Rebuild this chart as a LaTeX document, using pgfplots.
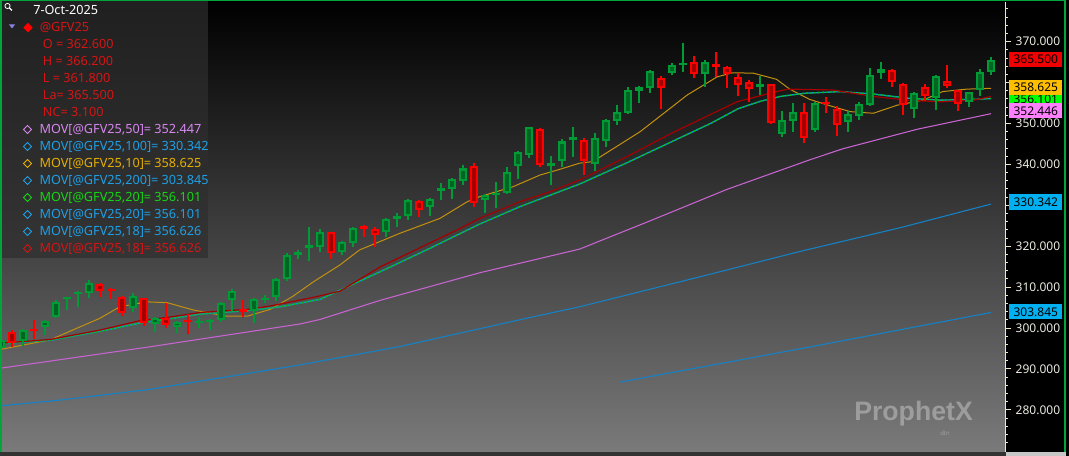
\documentclass[border=0pt]{standalone}
\usepackage{pgfplots}
\usepackage{pgfplotstable}
\pgfplotsset{compat=1.18}
\usepackage{fontspec}
\setmainfont{Noto Sans}
\newfontfamily\wmfont{Liberation Sans}

\definecolor{gout}{RGB}{0,155,55}
\definecolor{gin}{RGB}{0,100,35}
\definecolor{rout}{RGB}{255,0,0}
\definecolor{rin}{RGB}{165,0,0}
\definecolor{ma10c}{RGB}{195,145,15}
\definecolor{ma18c}{RGB}{165,0,0}
\definecolor{ma20g}{RGB}{0,190,0}
\definecolor{ma20b}{RGB}{20,150,210}
\definecolor{ma50c}{RGB}{200,100,210}
\definecolor{ma100c}{RGB}{20,130,200}
\definecolor{axcol}{RGB}{240,230,195}
\definecolor{tickl}{RGB}{235,235,225}
\definecolor{framec}{RGB}{0,165,60}
\definecolor{legred}{RGB}{215,20,20}
\definecolor{legpink}{RGB}{215,135,240}
\definecolor{legblue}{RGB}{30,160,230}
\definecolor{leggold}{RGB}{230,175,0}
\definecolor{leggreen}{RGB}{20,215,20}
\definecolor{tric}{RGB}{140,130,230}
\definecolor{boxred}{RGB}{240,0,0}
\definecolor{boxgold}{RGB}{255,190,0}
\definecolor{boxgreen}{RGB}{0,255,0}
\definecolor{boxpink}{RGB}{255,128,255}
\definecolor{boxblue}{RGB}{0,176,240}

\newcommand\fsz{\fontsize{9}{10}\selectfont}
\newcommand\lsz{\fontsize{9.5}{10}\selectfont}

\pgfplotstableread{
i o h l c
0 295.2 297.3 294.8 297.0
2 296.9 299.7 295.6 299.5
4 300.3 302.0 298.3 301.7
5 302.6 306.8 302.4 306.4
6 307.0 307.6 304.4 307.5
7 308.4 309.0 305.2 308.9
8 308.6 311.7 307.3 310.9
12 304.8 308.5 304.0 307.8
14 301.0 302.6 299.1 302.4
16 300.3 301.7 298.9 301.5
18 301.3 302.8 299.9 301.8
19 301.4 302.1 299.5 302.0
20 302.0 306.4 301.5 306.2
21 306.8 309.5 304.2 309.0
23 304.2 307.4 301.3 307.0
24 306.8 308.1 306.0 307.4
25 307.7 312.2 306.7 311.9
26 311.9 318.3 311.6 317.8
27 317.9 319.1 316.8 318.7
28 319.5 324.8 316.5 320.3
29 319.7 324.1 318.7 323.5
31 318.5 321.3 317.8 321.0
32 320.9 324.8 319.9 324.5
35 323.4 327.0 322.2 326.6
36 326.6 328.0 324.8 327.5
37 327.5 331.5 326.4 331.3
39 329.7 331.9 327.4 331.5
40 333.6 335.5 331.3 334.2
41 333.9 336.6 331.5 336.4
42 336.0 339.9 335.0 339.0
44 331.3 332.8 328.2 332.5
45 332.5 335.8 329.3 333.1
46 333.1 339.3 332.8 338.2
47 339.6 343.3 336.4 343.0
48 342.3 349.2 341.5 349.1
50 339.6 342.1 335.0 340.4
51 340.9 346.1 339.3 345.6
52 346.0 349.2 341.9 346.8
54 340.0 347.6 338.5 346.4
55 345.7 351.1 344.3 350.9
56 350.7 354.5 349.6 352.7
57 352.6 358.9 352.3 358.2
58 358.0 359.2 355.1 358.8
59 358.6 363.1 357.4 362.9
61 362.3 364.7 361.9 364.3
62 364.3 369.6 362.7 364.9
64 362.0 365.5 358.9 365.0
69 359.0 361.6 357.0 359.7
71 347.4 353.1 346.8 350.9
72 350.6 355.1 347.8 352.7
74 348.4 355.3 348.0 355.1
77 350.4 353.1 347.8 352.3
78 351.9 355.3 350.9 354.7
79 354.5 363.5 354.3 361.9
80 362.4 365.0 360.9 363.3
83 353.5 357.8 351.3 357.4
85 356.3 361.9 353.3 361.6
88 355.3 357.8 354.1 357.6
89 358.2 363.3 356.8 362.7
90 362.6 366.2 361.8 365.5
}\greens

\pgfplotstableread{
i o h l c
1 299.1 299.5 295.4 296.3
3 299.8 302.0 297.2 299.3
9 310.8 311.0 307.5 309.1
10 309.6 309.9 307.0 309.0
11 307.7 307.8 302.9 303.7
13 307.3 307.4 300.5 301.3
15 302.5 306.2 300.1 300.7
17 302.0 303.4 298.5 301.4
22 304.6 306.8 302.6 303.8
30 323.4 323.5 316.8 318.4
33 324.9 325.2 322.3 324.2
34 324.2 324.6 319.7 322.7
38 331.1 331.2 327.1 328.8
43 339.6 340.3 329.5 330.6
49 348.6 349.0 339.4 339.9
53 346.0 346.4 337.4 340.9
60 361.2 361.6 353.5 358.6
63 365.0 366.5 361.0 362.0
65 364.5 367.4 361.4 363.9
66 363.7 364.1 358.6 362.0
67 361.4 362.3 356.7 359.4
68 360.1 360.6 355.3 358.4
70 359.6 359.7 349.9 350.2
73 352.7 355.1 345.2 346.4
75 355.3 356.4 352.6 354.7
76 353.5 354.3 346.9 349.6
81 363.1 363.2 358.8 360.1
82 359.7 359.8 352.1 354.5
84 358.9 359.7 355.6 356.6
86 360.4 364.3 358.6 359.2
87 358.2 358.3 353.1 354.7
}\reds

\pgfplotsset{
  cbar/.style 2 args={only marks, mark=*, mark size=0pt,
    mark options={draw=none, fill=none}, forget plot,
    error bars/.cd, y dir=plus, y explicit, error mark=none,
    error bar style={draw=#1, line width=#2}},
}

\begin{document}
\begin{tikzpicture}
\path[use as bounding box] (0,0) rectangle (801.75pt,342pt);
\fill[black] (0,0) rectangle (801.75pt,342pt);

\begin{axis}[
  at={(1.5pt,3pt)}, anchor=south west,
  scale only axis, width=752.25pt, height=337.5pt,
  xmin=0.09, xmax=91.27, ymin=269.7, ymax=379.7,
  axis x line=none, axis y line=right,
  y axis line style={-, draw=axcol, line width=0.75pt},
  xtick=\empty,
  ytick={280,290,...,370},
  yticklabels={280.000,290.000,300.000,310.000,320.000,,340.000,350.000,,370.000},
  minor ytick={272,274,...,378},
  tick align=outside,
  major tick length=4.5pt, minor tick length=2.25pt,
  tick style={draw=axcol, line width=0.75pt},
  yticklabel style={font=\fsz, text=tickl},
  axis background/.style={top color=black, bottom color={rgb,255:red,122;green,122;blue,122}},
]
% MA200
\addplot[ma100c, line width=0.8pt] coordinates {(56.3,286.8) (72.6,294.9) (90,303.8)};
% MA100
\addplot[ma100c, line width=0.8pt] coordinates {(0,281.0) (5.4,282.4) (13.5,285.0) (27.2,291.0) (36.3,295.5) (47.8,302.4) (52.6,305.2) (63.5,312.5) (72.6,318.7) (81.7,324.5) (90,330.3)};
% MA50
\addplot[ma50c, line width=0.8pt] coordinates {(0,290.2) (13.5,295.4) (27.2,301.0) (29.0,302.1) (34.5,306.8) (43.5,313.5) (52.6,319.3) (59.0,326.2) (66.0,333.9) (73.5,341.1) (76.5,343.8) (83.3,348.6) (90,352.4)};
% MA10
\addplot[ma10c, line width=0.75pt] coordinates {(0,294.8) (4.45,297.1) (9.0,302.4) (10.8,305.2) (13.3,306.4) (15.1,306.2) (17.5,304.4) (20.5,302.9) (22.4,302.9) (24.5,304.6) (26.5,307.7) (28.4,311.3) (30.8,315.4) (32.6,319.1) (36.3,323.2) (39.9,326.8) (42.4,330.9) (43.5,332.1) (46.5,334.5) (49.0,337.4) (50.8,338.8) (52.6,340.3) (53.8,340.7) (58.1,348.0) (62.4,357.0) (65.1,361.4) (66.5,362.4) (68.4,362.3) (70.5,360.8) (71.7,358.4) (73.5,355.9) (75.4,354.3) (77.2,352.9) (79.3,352.5) (81.5,354.5) (83.8,355.7) (85.6,357.8) (87.8,358.4) (90,358.6)};
% MA20 (blue and green)
\addplot[ma20b, line width=1pt] coordinates {(0,296.2) (4.45,297.0) (9.0,299.2) (12.6,301.2) (15.1,302.2) (18.1,303.4) (22.6,304.3) (25.4,305.2) (29.0,307.0) (34.5,313.8) (39.0,319.5) (43.5,325.4) (47.2,329.7) (52.6,335.2) (56.9,340.4) (61.8,346.6) (64.5,350.0) (67.0,353.6) (69.0,355.4) (70.8,356.6) (73.1,357.4) (76.3,357.8) (79.3,357.2) (82.4,356.2) (85.4,355.7) (88.4,355.9) (90,356.1)};
\addplot[ma20g, line width=1pt, dash pattern=on 1.5pt off 1.5pt] coordinates {(0,296.2) (4.45,297.0) (9.0,299.2) (12.6,301.2) (15.1,302.2) (18.1,303.4) (22.6,304.3) (25.4,305.2) (29.0,307.0) (34.5,313.8) (39.0,319.5) (43.5,325.4) (47.2,329.7) (52.6,335.2) (56.9,340.4) (61.8,346.6) (64.5,350.0) (67.0,353.6) (69.0,355.4) (70.8,356.6) (73.1,357.4) (76.3,357.8) (79.3,357.2) (82.4,356.2) (85.4,355.7) (88.4,355.9) (90,356.1)};
% MA18
\addplot[ma18c, line width=0.9pt] coordinates {(0,296.3) (4.45,297.2) (9.0,299.5) (12.6,301.8) (15.1,302.6) (18.1,303.8) (22.6,304.6) (24.5,305.4) (28.4,307.5) (30.8,309.0) (34.5,315.0) (39.0,320.8) (41.7,324.3) (43.5,326.8) (47.2,330.9) (49.9,333.3) (52.6,336.2) (56.9,341.9) (60.8,347.4) (63.8,351.3) (66.9,355.3) (69.9,357.4) (71.5,358.4) (75.6,358.2) (77.2,357.5) (79.3,356.6) (82.4,355.7) (85.4,355.3) (88.4,355.7) (90,356.6)};

% candles
\addplot[cbar={gout}{1.5pt}] table[x=i, y=l, y error plus expr=\thisrow{h}-\thisrow{l}] {\greens};
\addplot[cbar={gout}{6.6pt}] table[x=i, y=o, y error plus expr=\thisrow{c}-\thisrow{o}] {\greens};
\addplot[cbar={gin}{3.4pt}] table[x=i, y expr=\thisrow{o}+0.49, y error plus expr={max(\thisrow{c}-\thisrow{o}-0.98,0)}] {\greens};
\addplot[cbar={rout}{1.5pt}] table[x=i, y=l, y error plus expr=\thisrow{h}-\thisrow{l}] {\reds};
\addplot[cbar={rout}{6.6pt}] table[x=i, y=c, y error plus expr=\thisrow{o}-\thisrow{c}] {\reds};
\addplot[cbar={rin}{3.4pt}] table[x=i, y expr=\thisrow{c}+0.49, y error plus expr={max(\thisrow{o}-\thisrow{c}-0.98,0)}] {\reds};

\coordinate (qr) at (axis cs:91.27,365.5);
\coordinate (qgold) at (axis cs:91.27,358.625);
\coordinate (qgreen) at (axis cs:91.27,356.101);
\coordinate (qpink) at (axis cs:91.27,352.446);
\coordinate (qb1) at (axis cs:91.27,330.342);
\coordinate (qb2) at (axis cs:91.27,303.845);
\end{axis}

% value boxes
\tikzset{vbox/.style={anchor=west, minimum width=39.75pt, minimum height=11.4pt, inner sep=0pt, font=\fsz, text=black}}
\node[vbox, fill=boxgreen] at ([xshift=3pt,yshift=-0.4pt]qgreen) {356.101};
\node[vbox, fill=boxgold] at ([xshift=3pt,yshift=0.8pt]qgold) {358.625};
\node[vbox, fill=boxpink] at ([xshift=3pt,yshift=2pt]qpink) {352.446};
\node[vbox, fill=boxred] at ([xshift=3pt,yshift=0.7pt]qr) {365.500};
\node[vbox, fill=boxblue] at ([xshift=3pt,yshift=1.4pt]qb1) {330.342};
\node[vbox, fill=boxblue] at ([xshift=3pt,yshift=0.4pt]qb2) {303.845};

\begin{scope}[x=0.75pt, y=-0.75pt, shift={(0pt,342pt)}]
  % frame
  \fill[framec] (0,0) rectangle (2,456);
  \fill[framec] (0,0) rectangle (1066,1.3);
  \fill[framec] (1064,0) rectangle (1066,452);
  \fill[black!80] (0,452) rectangle (1006,456);
  \fill[black!22] (1006,452) rectangle (1066,456);
  % legend panel
  \fill[black!82, opacity=0.7] (2,1.3) rectangle (208,258);
  % magnifier
  \draw[white, line width=0.6pt] (7.5,6) circle[radius=2.6];
  \draw[white, line width=0.9pt] (9.5,8) -- (12,10.5);
  \node[anchor=base west, inner sep=0pt, font=\lsz, text=white] at (33,14.3) {7-Oct-2025};
  \fill[tric] (9,24.5) -- (15,24.5) -- (12,28.5) -- cycle;
  \fill[rout] (28,23) -- (32.7,27.7) -- (28,32.4) -- (23.3,27.7) -- cycle;
  \node[anchor=base west, inner sep=0pt, font=\lsz, text=legred] at (39.5,32) {@GFV25};
  \node[anchor=base west, inner sep=0pt, font=\lsz, text=legred] at (42.7,49) {O = 362.600};
  \node[anchor=base west, inner sep=0pt, font=\lsz, text=legred] at (42.7,66) {H = 366.200};
  \node[anchor=base west, inner sep=0pt, font=\lsz, text=legred] at (42.7,83) {L = 361.800};
  \node[anchor=base west, inner sep=0pt, font=\lsz, text=legred] at (42.7,100) {La= 365.500};
  \node[anchor=base west, inner sep=0pt, font=\lsz, text=legred] at (42.7,117) {NC= 3.100};
  \foreach \yy/\cc/\tt in {134/legpink/{MOV[@GFV25,50]= 352.447},
                           151/legblue/{MOV[@GFV25,100]= 330.342},
                           168/leggold/{MOV[@GFV25,10]= 358.625},
                           185/legblue/{MOV[@GFV25,200]= 303.845},
                           202/leggreen/{MOV[@GFV25,20]= 356.101},
                           219/legblue/{MOV[@GFV25,20]= 356.101},
                           236/legblue/{MOV[@GFV25,18]= 356.626},
                           253/legred/{MOV[@GFV25,18]= 356.626}} {
    \draw[\cc, line width=0.75pt] (27.5,\yy-8.5) -- (31.5,\yy-4.5) -- (27.5,\yy-0.5) -- (23.5,\yy-4.5) -- cycle;
    \node[anchor=base west, inner sep=0pt, font=\lsz, text=\cc] at (39.3,\yy) {\tt};
  }
  % watermark
  \node[anchor=base west, inner sep=0pt, font=\wmfont\bfseries\fontsize{20}{22}\selectfont, text=white, opacity=0.32] at (854,421) {ProphetX};
  \node[anchor=base west, inner sep=0pt, font=\fontsize{4.5}{5}\selectfont, text=white, opacity=0.3] at (940,436) {dtn};
\end{scope}
\end{tikzpicture}
\end{document}
